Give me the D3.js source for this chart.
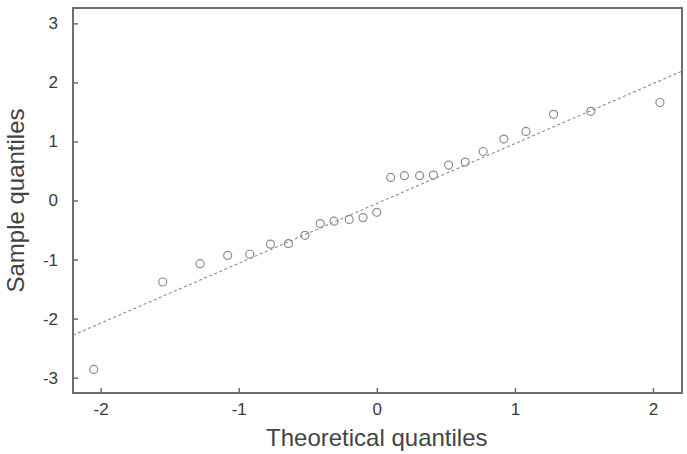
<!DOCTYPE html>
<html>
<head>
<meta charset="utf-8">
<script src="https://cdn.jsdelivr.net/npm/d3@7"></script>
<style>
  body { margin: 0; background: #fff; }
  text { font-family: "Liberation Sans", Arial, sans-serif; }
</style>
</head>
<body>
<div id="canvas"></div>
<script>
// theoretical vs sample quantiles
const theoretical = [-2.05, -1.55, -1.28, -1.08, -0.92, -0.77, -0.64, -0.52, -0.41, -0.31, -0.20, -0.10, 0,
                     0.10, 0.20, 0.31, 0.41, 0.52, 0.64, 0.77, 0.92, 1.08, 1.28, 1.55, 2.05]
const sample = [-2.86, -1.38, -1.07, -0.93, -0.91, -0.74, -0.73, -0.59, -0.39, -0.35, -0.32, -0.29, -0.20,
                0.39, 0.42, 0.42, 0.43, 0.60, 0.65, 0.83, 1.04, 1.17, 1.46, 1.51, 1.66]
const xTicks = [-2, -1, 0, 1, 2]
const yTicks = [-3, -2, -1, 0, 1, 2, 3]
const refLine = {slope: 1.014, intercept: -0.05}

const margin = {top: 8, left: 73, right: 5, bottom: 61}
let width = 687
let height = 454

const svg = d3.select('#canvas')
            .append('svg')
            .attr('width', width)
            .attr('height', height)

let x = d3.scaleLinear()
        .domain([-2.2, 2.21])
        .range([margin.left, width - margin.right])

let y = d3.scaleLinear()
        .domain([-3.26, 3.26])
        .range([height - margin.bottom, margin.top])

let g = svg.append('g')

// dashed reference line across the panel
let xs = x.domain()
g.append('line')
    .attr('x1', x(xs[0])).attr('y1', y(refLine.intercept + refLine.slope * xs[0]))
    .attr('x2', x(xs[1])).attr('y2', y(refLine.intercept + refLine.slope * xs[1]))
    .attr('stroke', '#8a8a8a')
    .attr('stroke-width', 1.1)
    .attr('stroke-dasharray', '3,2.5')

let pts = theoretical.map((t, i) => ({t: t, s: sample[i]}))
g.selectAll('circle')
    .data(pts).enter()
    .append('circle')
    .attr('cx', d => x(d.t))
    .attr('cy', d => y(d.s))
    .attr('r', 4)
    .attr('fill', 'none')
    .attr('stroke', '#8c8c8c')
    .attr('stroke-width', 1.2)

// axes with inward ticks
let fmt = d => String(d)
let xAxis = svg.append('g')
    .attr('transform', `translate(0,${height - margin.bottom})`)
    .call(d3.axisBottom(x).tickValues(xTicks).tickFormat(fmt).tickSizeInner(-5).tickSizeOuter(0).tickPadding(10))
let yAxis = svg.append('g')
    .attr('transform', `translate(${margin.left},0)`)
    .call(d3.axisLeft(y).tickValues(yTicks).tickFormat(fmt).tickSizeInner(-5).tickSizeOuter(0).tickPadding(15))

;[xAxis, yAxis].forEach(a => {
    a.select('.domain').remove()
    a.selectAll('line').attr('stroke', '#6e6e6e').attr('stroke-width', 1.5)
    a.selectAll('text').attr('font-size', 17).attr('fill', '#3a3a3a')
        .style('font-family', '"Liberation Sans", Arial, sans-serif')
})

// frame
svg.append('rect')
    .attr('x', margin.left).attr('y', margin.top)
    .attr('width', width - margin.left - margin.right)
    .attr('height', height - margin.top - margin.bottom)
    .attr('fill', 'none')
    .attr('stroke', '#6e6e6e')
    .attr('stroke-width', 2)

svg.append('text')
    .text('Theoretical quantiles')
    .attr('x', x(0))
    .attr('y', 446)
    .attr('text-anchor', 'middle')
    .attr('font-size', 24)
    .attr('fill', '#444')

svg.append('text')
    .text('Sample quantiles')
    .attr('transform', `translate(24,${y(0)}) rotate(-90)`)
    .attr('text-anchor', 'middle')
    .attr('font-size', 24)
    .attr('fill', '#444')
</script>
</body>
</html>
